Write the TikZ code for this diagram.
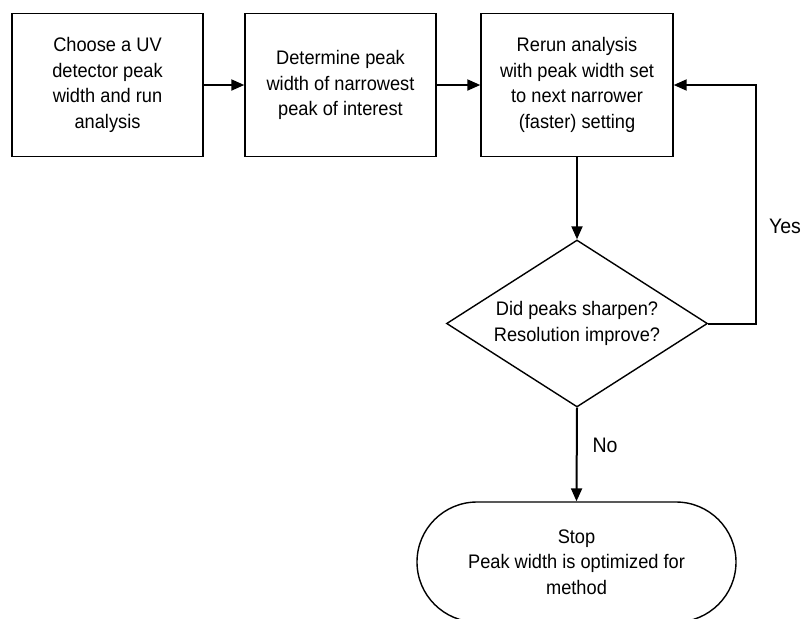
\documentclass[tikz,border=0pt]{standalone}
\usepackage{fontspec}
\setmainfont[FakeStretch=0.93]{Liberation Sans}
\usetikzlibrary{shapes.geometric,arrows.meta}
\begin{document}
\begin{tikzpicture}[x=1pt,y=-1pt,
  every node/.style={font=\fontsize{19.6}{25.5}\selectfont, align=center, inner sep=0pt},
  procbox/.style={draw, line width=1.4pt, minimum width=191pt, minimum height=143pt},
  decision/.style={draw, diamond, line width=1.4pt, minimum width=261pt, minimum height=167pt, shape aspect=1.56},
  terminal/.style={draw, line width=1.4pt, rounded corners=60pt, minimum width=319pt, minimum height=120pt},
  flow/.style={line width=2pt, -{Triangle[length=13pt,width=11pt]}},
  lbl/.style={font=\fontsize{21}{24}\selectfont}
]
\useasboundingbox (0,0) rectangle (804,619);
\node[procbox] (b1) at (107.5,85) {Choose a UV\\detector peak\\width and run\\analysis};
\node[procbox] (b2) at (340.5,85) {Determine peak\\width of narrowest\\peak of interest};
\node[procbox, minimum width=192pt] (b3) at (577,85) {Rerun analysis\\with peak width set\\to next narrower\\(faster) setting};
\node[decision] (d) at (577,323.5) {Did peaks sharpen?\\Resolution improve?};
\node[terminal] (s) at (576.5,562) {Stop\\Peak width is optimized for\\method};
\coordinate (c1) at (756,323.5);
\coordinate (c2) at (756,85);
\draw[flow] (b1.east) -- (b2.west);
\draw[flow] (b2.east) -- (b3.west);
\draw[flow] (b3.south) -- (d.north);
\draw[flow] (d.east) -- (c1) -- (c2) -- (b3.east);
\draw[flow] (d.south) -- (s.north);
\node[lbl] (yes) at (785,226) {Yes};
\node[lbl] (no) at (605,445) {No};
\end{tikzpicture}
\end{document}
